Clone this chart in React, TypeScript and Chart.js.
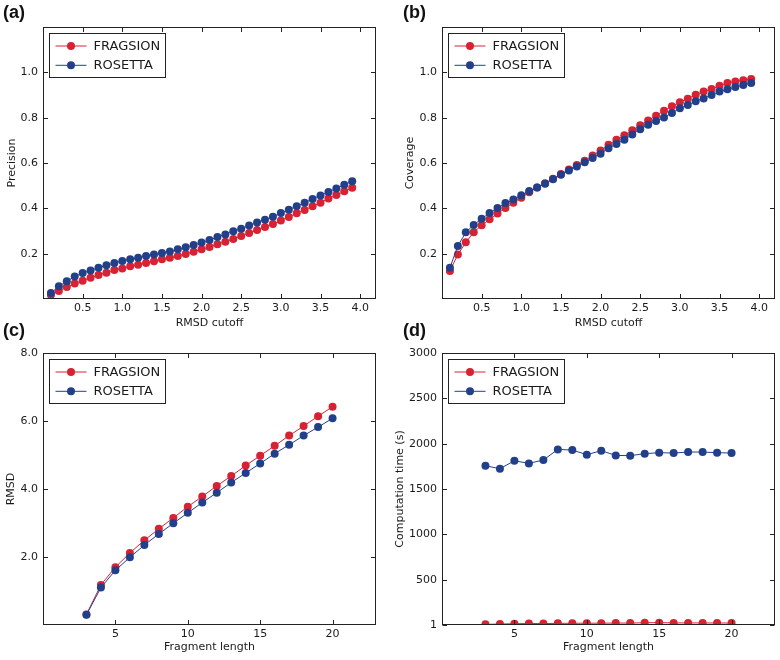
import React, { useEffect, useRef } from 'react';
import { Chart, registerables } from 'chart.js';

Chart.register(...registerables);

// ---------- data ----------
const seriesNames = ['FRAGSION', 'ROSETTA'];

const cutoffs = [
  0.1, 0.2, 0.3, 0.4, 0.5, 0.6, 0.7, 0.8, 0.9, 1.0,
  1.1, 1.2, 1.3, 1.4, 1.5, 1.6, 1.7, 1.8, 1.9, 2.0,
  2.1, 2.2, 2.3, 2.4, 2.5, 2.6, 2.7, 2.8, 2.9, 3.0,
  3.1, 3.2, 3.3, 3.4, 3.5, 3.6, 3.7, 3.8, 3.9,
];

const precisionFragsion = [
  0.018, 0.035, 0.053, 0.068, 0.081, 0.094, 0.106, 0.116, 0.128, 0.135,
  0.144, 0.151, 0.159, 0.166, 0.175, 0.182, 0.19, 0.199, 0.209, 0.219,
  0.229, 0.241, 0.253, 0.265, 0.278, 0.291, 0.304, 0.318, 0.331, 0.346,
  0.362, 0.378, 0.393, 0.409, 0.425, 0.443, 0.459, 0.475, 0.491,
];
const precisionRosetta = [
  0.026, 0.056, 0.078, 0.099, 0.115, 0.126, 0.138, 0.149, 0.159, 0.168,
  0.175, 0.182, 0.19, 0.196, 0.203, 0.21, 0.219, 0.228, 0.238, 0.249,
  0.26, 0.274, 0.285, 0.299, 0.31, 0.324, 0.338, 0.35, 0.363, 0.379,
  0.394, 0.409, 0.425, 0.441, 0.457, 0.472, 0.488, 0.504, 0.52,
];

const coverageFragsion = [
  0.124, 0.196, 0.25, 0.294, 0.325, 0.352, 0.377, 0.401, 0.425, 0.447,
  0.471, 0.492, 0.511, 0.531, 0.551, 0.571, 0.591, 0.61, 0.633, 0.655,
  0.68, 0.703, 0.722, 0.744, 0.766, 0.788, 0.809, 0.831, 0.85, 0.868,
  0.884, 0.901, 0.915, 0.926, 0.941, 0.953, 0.96, 0.965, 0.971,
];
const coverageRosetta = [
  0.138, 0.234, 0.294, 0.327, 0.354, 0.379, 0.401, 0.423, 0.439, 0.458,
  0.476, 0.492, 0.509, 0.528, 0.548, 0.567, 0.585, 0.603, 0.622, 0.641,
  0.665, 0.684, 0.703, 0.726, 0.749, 0.769, 0.785, 0.801, 0.821, 0.841,
  0.856, 0.872, 0.885, 0.9, 0.915, 0.925, 0.935, 0.944, 0.953,
];

const fragmentLengths = [3, 4, 5, 6, 7, 8, 9, 10, 11, 12, 13, 14, 15, 16, 17, 18, 19, 20];

const rmsdFragsion = [0.31, 1.18, 1.7, 2.12, 2.49, 2.83, 3.15, 3.48, 3.78, 4.09, 4.38, 4.69, 4.98, 5.27, 5.57, 5.85, 6.14, 6.42];
const rmsdRosetta = [0.3, 1.1, 1.61, 1.99, 2.35, 2.68, 2.99, 3.3, 3.6, 3.89, 4.19, 4.47, 4.75, 5.04, 5.3, 5.57, 5.82, 6.08];

const timeFragsion = [8, 12, 15, 17, 17, 19, 20, 21, 21, 23, 22, 26, 27, 24, 24, 24, 23, 23];
const timeRosetta = [1757, 1724, 1812, 1783, 1820, 1937, 1930, 1879, 1923, 1871, 1868, 1890, 1901, 1897, 1908, 1908, 1901, 1897];

const cutoffTicks = [0.5, 1.0, 1.5, 2.0, 2.5, 3.0, 3.5, 4.0];
const fractionTicks = [0.2, 0.4, 0.6, 0.8, 1.0];
const lengthTicks = [5, 10, 15, 20];
const rmsdTicks = [2, 4, 6, 8];
const timeTicks = [1, 500, 1000, 1500, 2000, 2500, 3000];

// ---------- style ----------
const RED = '#d62232';
const BLUE = '#22408a';
const FONT = "'DejaVu Sans', 'Bitstream Vera Sans', sans-serif";
const TEXT = '#1a1a1a';
const FRAME = '#222222';

const framePlugin = {
  id: 'mplFrame',
  afterDatasetsDraw(chart: any) {
    const { ctx, chartArea: a, scales } = chart;
    const x = scales.x;
    const y = scales.y;
    const L = Math.round(a.left) + 0.5;
    const R = Math.round(a.right) - 0.5;
    const T = Math.round(a.top) + 0.5;
    const B = Math.round(a.bottom) - 0.5;
    ctx.save();
    ctx.strokeStyle = FRAME;
    ctx.lineWidth = 1;
    const TL = 4.5;
    ctx.beginPath();
    for (const t of x.ticks) {
      const px = Math.round(x.getPixelForValue(t.value)) + 0.5;
      ctx.moveTo(px, B);
      ctx.lineTo(px, B - TL);
      ctx.moveTo(px, T);
      ctx.lineTo(px, T + TL);
    }
    for (const t of y.ticks) {
      const py = Math.round(y.getPixelForValue(t.value)) + 0.5;
      ctx.moveTo(L, py);
      ctx.lineTo(L + TL, py);
      ctx.moveTo(R, py);
      ctx.lineTo(R - TL, py);
    }
    ctx.stroke();
    ctx.strokeRect(L, T, R - L, B - T);

    // legend inside the axes, upper left
    const bx = Math.round(a.left) + 6.5;
    const by = Math.round(a.top) + 6.5;
    const bw = 116;
    const bh = 44;
    ctx.fillStyle = '#ffffff';
    ctx.fillRect(bx, by, bw, bh);
    ctx.strokeStyle = FRAME;
    ctx.strokeRect(bx, by, bw, bh);
    const rows = [
      { name: seriesNames[0], color: RED },
      { name: seriesNames[1], color: BLUE },
    ];
    rows.forEach((r, i) => {
      const ry = by + 12.5 + i * 19.3;
      ctx.strokeStyle = r.color;
      ctx.lineWidth = 1;
      ctx.beginPath();
      ctx.moveTo(bx + 6, ry);
      ctx.lineTo(bx + 37, ry);
      ctx.stroke();
      ctx.fillStyle = r.color;
      ctx.beginPath();
      ctx.arc(bx + 21.5, ry, 4, 0, Math.PI * 2);
      ctx.fill();
      ctx.fillStyle = TEXT;
      ctx.font = `13px ${FONT}`;
      ctx.textBaseline = 'middle';
      ctx.textAlign = 'left';
      ctx.fillText(r.name, bx + 44, ry + 0.5);
    });
    ctx.restore();
  },
};

type PanelProps = {
  left: number;
  top: number;
  xs: number[];
  a: number[];
  b: number[];
  xMin: number;
  xMax: number;
  yMin: number;
  yMax: number;
  xTicks: number[];
  yTicks: number[];
  xFmt: (v: number) => string;
  yFmt: (v: number) => string;
  xTitle: string;
  yTitle: string;
  padTop: number;
  padRight: number;
  yWidth: number;
  xHeight: number;
  yTitlePad: number;
  xTitlePad: number;
};

function Panel(p: PanelProps) {
  const ref = useRef<HTMLCanvasElement>(null);
  useEffect(() => {
    const mk = (ys: number[], color: string, label: string, order: number) => ({
      label,
      data: p.xs.map((x, i) => ({ x, y: ys[i] })),
      borderColor: color,
      backgroundColor: color,
      pointBackgroundColor: color,
      pointBorderColor: color,
      pointRadius: 4,
      pointBorderWidth: 0,
      pointHoverRadius: 4,
      borderWidth: 1,
      tension: 0,
      order,
      clip: 0,
    });
    const chart = new Chart(ref.current as HTMLCanvasElement, {
      type: 'line',
      data: {
        datasets: [mk(p.a, RED, seriesNames[0], 1), mk(p.b, BLUE, seriesNames[1], 0)] as any,
      },
      options: {
        responsive: false,
        animation: false,
        devicePixelRatio: 1,
        events: [],
        layout: { padding: { left: 0, top: p.padTop, right: p.padRight, bottom: 0 } },
        plugins: { legend: { display: false }, tooltip: { enabled: false } },
        scales: {
          x: {
            type: 'linear',
            min: p.xMin,
            max: p.xMax,
            grid: { display: false, drawTicks: false },
            border: { display: false },
            afterBuildTicks: (s: any) => {
              s.ticks = p.xTicks.map((v) => ({ value: v }));
            },
            afterFit: (s: any) => {
              s.height = p.xHeight;
            },
            ticks: {
              font: { family: FONT, size: 11 },
              color: TEXT,
              padding: 3,
              maxRotation: 0,
              autoSkip: false,
              callback: (v: any) => p.xFmt(Number(v)),
            },
            title: {
              display: true,
              text: p.xTitle,
              font: { family: FONT, size: 11 },
              color: TEXT,
              padding: { top: 0, bottom: p.xTitlePad },
            },
          },
          y: {
            type: 'linear',
            min: p.yMin,
            max: p.yMax,
            grid: { display: false, drawTicks: false },
            border: { display: false },
            afterBuildTicks: (s: any) => {
              s.ticks = p.yTicks.map((v) => ({ value: v }));
            },
            afterFit: (s: any) => {
              s.width = p.yWidth;
            },
            ticks: {
              font: { family: FONT, size: 11 },
              color: TEXT,
              padding: 5,
              autoSkip: false,
              callback: (v: any) => p.yFmt(Number(v)),
            },
            title: {
              display: true,
              text: p.yTitle,
              font: { family: FONT, size: 11 },
              color: TEXT,
              padding: { top: p.yTitlePad, bottom: 0 },
            },
          },
        },
      } as any,
      plugins: [framePlugin],
    });
    return () => chart.destroy();
  }, []);
  return (
    <canvas
      ref={ref}
      width={390}
      height={330}
      style={{ position: 'absolute', left: p.left, top: p.top, width: 390, height: 330 }}
    />
  );
}

const labelStyle = (left: number, top: number): React.CSSProperties => ({
  position: 'absolute',
  left,
  top,
  font: "bold 18px 'Liberation Sans', Arial, sans-serif",
  lineHeight: '18px',
  color: '#111',
  zIndex: 2,
  whiteSpace: 'nowrap',
});

export default function App() {
  const f1 = (v: number) => v.toFixed(1);
  const f0 = (v: number) => String(Math.round(v));
  return (
    <div style={{ position: 'absolute', left: 0, top: 0, width: 780, height: 660, background: '#fff' }}>
      <Panel
        left={0} top={0}
        xs={cutoffs} a={precisionFragsion} b={precisionRosetta}
        xMin={0} xMax={4.2} yMin={0} yMax={1.2}
        xTicks={cutoffTicks} yTicks={fractionTicks}
        xFmt={f1} yFmt={f1}
        xTitle="RMSD cutoff" yTitle="Precision"
        padTop={27} padRight={14} yWidth={43} xHeight={31}
        yTitlePad={6} xTitlePad={0}
      />
      <Panel
        left={390} top={0}
        xs={cutoffs} a={coverageFragsion} b={coverageRosetta}
        xMin={0} xMax={4.2} yMin={0} yMax={1.2}
        xTicks={cutoffTicks} yTicks={fractionTicks}
        xFmt={f1} yFmt={f1}
        xTitle="RMSD cutoff" yTitle="Coverage"
        padTop={27} padRight={5} yWidth={52} xHeight={31}
        yTitlePad={14} xTitlePad={0}
      />
      <Panel
        left={0} top={330}
        xs={fragmentLengths} a={rmsdFragsion} b={rmsdRosetta}
        xMin={0} xMax={23} yMin={0} yMax={8}
        xTicks={lengthTicks} yTicks={rmsdTicks}
        xFmt={f0} yFmt={f1}
        xTitle="Fragment length" yTitle="RMSD"
        padTop={23} padRight={14} yWidth={43} xHeight={35}
        yTitlePad={5} xTitlePad={6}
      />
      <Panel
        left={390} top={330}
        xs={fragmentLengths} a={timeFragsion} b={timeRosetta}
        xMin={0} xMax={23} yMin={1} yMax={3000}
        xTicks={lengthTicks} yTicks={timeTicks}
        xFmt={f0} yFmt={f0}
        xTitle="Fragment length" yTitle="Computation time (s)"
        padTop={23} padRight={5} yWidth={52} xHeight={35}
        yTitlePad={4} xTitlePad={6}
      />
      <div style={labelStyle(3, 3)}>(a)</div>
      <div style={labelStyle(403, 3)}>(b)</div>
      <div style={labelStyle(3, 321)}>(c)</div>
      <div style={labelStyle(403, 321)}>(d)</div>
    </div>
  );
}
